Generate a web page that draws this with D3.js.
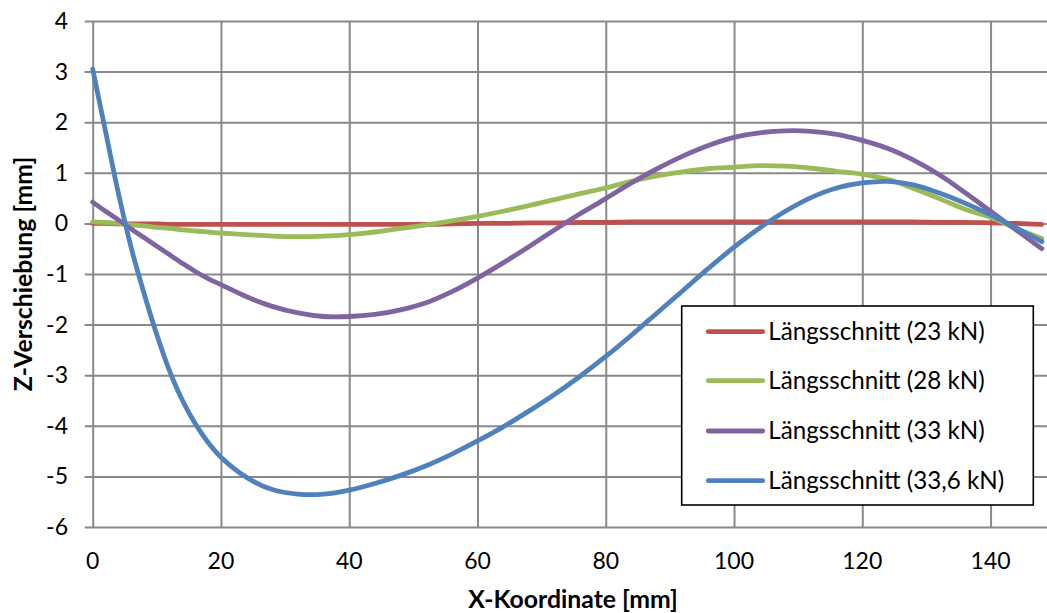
<!DOCTYPE html>
<html>
<head>
<meta charset="utf-8">
<script src="https://cdn.jsdelivr.net/npm/d3@7"></script>
<style>
  html, body { margin: 0; padding: 0; background: #fff; }
  svg { display: block; }
  text { font-family: Lato, "Open Sans", sans-serif; fill: #000; }
</style>
</head>
<body>
<svg id="chart" width="1047" height="613"></svg>
<script>
// Measurement positions along the specimen [mm]
const xPositions = [0, 2, 4, 6, 8, 10, 12, 14, 16, 18, 20, 24, 28, 32, 36, 40, 44, 48, 52, 56,
  60, 64, 68, 72, 76, 80, 84, 88, 92, 96, 100, 104, 108, 112, 116, 120, 124, 128, 132, 136,
  140, 144, 148];

// Z displacement [mm] per load level
const zAt23kN = [0.00, 0.00, -0.01, -0.01, -0.01, -0.01, -0.02, -0.02, -0.02, -0.02, -0.02, -0.02,
  -0.02, -0.02, -0.02, -0.02, -0.02, -0.02, -0.02, -0.01, 0.00, 0.00, 0.01, 0.01, 0.02, 0.02,
  0.03, 0.03, 0.03, 0.03, 0.03, 0.03, 0.03, 0.03, 0.03, 0.03, 0.03, 0.03, 0.02, 0.02, 0.01,
  0.00, -0.02];

const zAt28kN = [0.03, 0.02, 0.00, -0.03, -0.05, -0.08, -0.10, -0.13, -0.15, -0.17, -0.19, -0.22,
  -0.25, -0.26, -0.25, -0.22, -0.17, -0.10, -0.03, 0.05, 0.14, 0.24, 0.35, 0.47, 0.59, 0.70,
  0.83, 0.94, 1.02, 1.08, 1.11, 1.14, 1.13, 1.09, 1.03, 0.97, 0.87, 0.69, 0.49, 0.28, 0.12,
  -0.10, -0.30];

const zAt33kN = [0.42, 0.24, 0.07, -0.11, -0.28, -0.45, -0.62, -0.79, -0.95, -1.09, -1.21, -1.45,
  -1.64, -1.77, -1.84, -1.84, -1.80, -1.71, -1.57, -1.35, -1.08, -0.78, -0.46, -0.13, 0.19, 0.49,
  0.80, 1.08, 1.33, 1.54, 1.70, 1.79, 1.83, 1.82, 1.76, 1.64, 1.48, 1.25, 0.96, 0.61, 0.24,
  -0.13, -0.50];

const zAt33_6kN = [3.05, 1.82, 0.60, -0.48, -1.38, -2.20, -2.92, -3.50, -3.96, -4.33, -4.62, -5.02,
  -5.26, -5.35, -5.35, -5.27, -5.14, -4.98, -4.79, -4.56, -4.30, -4.02, -3.71, -3.38, -3.02, -2.63,
  -2.21, -1.77, -1.33, -0.89, -0.47, -0.09, 0.24, 0.51, 0.70, 0.80, 0.83, 0.76, 0.60, 0.40, 0.17,
  -0.09, -0.36];

const seriesNames = ["Längsschnitt (23 kN)", "Längsschnitt (28 kN)", "Längsschnitt (33 kN)", "Längsschnitt (33,6 kN)"];
const seriesValues = [zAt23kN, zAt28kN, zAt33kN, zAt33_6kN];
const seriesColors = ["#C0504D", "#9BBB59", "#8064A2", "#4F81BD"];

const xTicks = [0, 20, 40, 60, 80, 100, 120, 140];
const yTicks = [-6, -5, -4, -3, -2, -1, 0, 1, 2, 3, 4];

const xTitle = "X-Koordinate [mm]";
const yTitle = "Z-Verschiebung [mm]";

// Plot frame
const plot = { left: 92.7, right: 1047, top: 21, bottom: 527 };

const svg = d3.select("#chart");

const x = d3.scaleLinear().domain([0, 148.8]).range([plot.left, plot.right]);
const y = d3.scaleLinear().domain([-6, 4]).range([plot.bottom, plot.top]);

const gridColor = "#898989";

// Horizontal gridlines with short ticks to the left of the axis
const yAxis = d3.axisLeft(y)
  .tickValues(yTicks)
  .tickSize(plot.right - plot.left + 8)
  .tickFormat(d => String(d));
const gy = svg.append("g")
  .attr("transform", `translate(${plot.right},0)`)
  .call(yAxis);
gy.select(".domain").remove();
gy.selectAll(".tick line")
  .attr("x1", 0)
  .attr("stroke", gridColor)
  .attr("stroke-width", 2);
gy.selectAll(".tick text").remove();

// Vertical gridlines
const xAxis = d3.axisBottom(x)
  .tickValues(xTicks)
  .tickSize(-(plot.bottom - plot.top))
  .tickFormat(d => String(d));
const gx = svg.append("g")
  .attr("transform", `translate(0,${plot.bottom})`)
  .call(xAxis);
gx.select(".domain").remove();
gx.selectAll(".tick line")
  .attr("stroke", gridColor)
  .attr("stroke-width", 2);
gx.selectAll(".tick text").remove();

// Tick labels
svg.append("g")
  .selectAll("text")
  .data(yTicks)
  .join("text")
  .attr("x", 68)
  .attr("y", d => y(d) + 8)
  .attr("text-anchor", "end")
  .attr("font-size", 23)
  .text(d => String(d));

svg.append("g")
  .selectAll("text")
  .data(xTicks)
  .join("text")
  .attr("x", d => x(d))
  .attr("y", 569)
  .attr("text-anchor", "middle")
  .attr("font-size", 23)
  .text(d => String(d));

// Axis titles
svg.append("text")
  .attr("x", 573)
  .attr("y", 608)
  .attr("text-anchor", "middle")
  .attr("font-size", 24.8)
  .attr("font-weight", "bold")
  .text(xTitle);

svg.append("text")
  .attr("transform", `translate(32,${(plot.top + plot.bottom) / 2}) rotate(-90)`)
  .attr("text-anchor", "middle")
  .attr("font-size", 24.8)
  .attr("font-weight", "bold")
  .text(yTitle);

// Series lines
const line = d3.line()
  .x((d, i) => x(xPositions[i]))
  .y(d => y(d))
  .curve(d3.curveCatmullRom.alpha(0.5));

svg.append("g")
  .selectAll("path")
  .data(seriesValues)
  .join("path")
  .attr("d", d => line(d))
  .attr("fill", "none")
  .attr("stroke", (d, i) => seriesColors[i])
  .attr("stroke-width", 4.8)
  .attr("stroke-linecap", "round")
  .attr("stroke-linejoin", "round");

// Legend
const legend = svg.append("g");
legend.append("rect")
  .attr("x", 681.7)
  .attr("y", 306)
  .attr("width", 351.6)
  .attr("height", 199)
  .attr("fill", "#fff")
  .attr("stroke", "#000")
  .attr("stroke-width", 1.6);

const rowY = [331.7, 380.7, 431, 480.7];
const rows = legend.selectAll("g.row")
  .data(seriesNames)
  .join("g")
  .attr("class", "row");
rows.append("line")
  .attr("x1", 708.3)
  .attr("x2", 762.7)
  .attr("y1", (d, i) => rowY[i])
  .attr("y2", (d, i) => rowY[i])
  .attr("stroke", (d, i) => seriesColors[i])
  .attr("stroke-width", 4.8)
  .attr("stroke-linecap", "round");
rows.append("text")
  .attr("x", 768.3)
  .attr("y", (d, i) => rowY[i] + 8)
  .attr("font-size", 24.2)
  .text(d => d);
</script>
</body>
</html>
